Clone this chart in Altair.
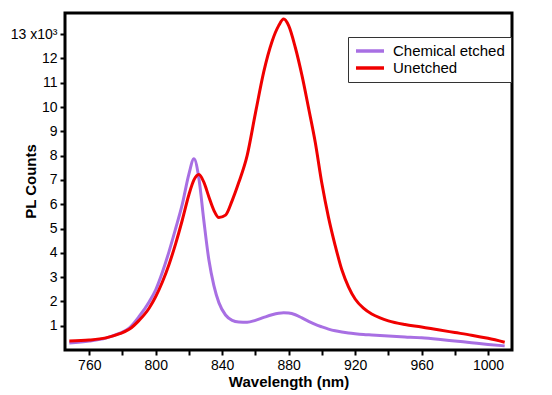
import altair as alt
import pandas as pd

wavelength = [748, 760, 770, 778, 784, 790, 796, 800, 804, 808, 812, 816, 820, 823, 826,
              829, 832, 835, 838, 842, 846, 850, 855, 860, 865, 870, 874, 877, 880, 884,
              888, 892, 896, 900, 904, 908, 912, 916, 920, 925, 930, 935, 940, 950, 960, 970,
              980, 990, 1000, 1010]

unetched = [0.37, 0.41, 0.50, 0.66, 0.85, 1.22, 1.72, 2.20, 2.80, 3.52, 4.38, 5.35, 6.40,
            7.00, 7.22, 6.90, 6.30, 5.75, 5.45, 5.55, 6.15, 6.90, 8.00, 9.75, 11.45, 12.7,
            13.35, 13.62, 13.35, 12.45, 11.3, 9.95, 8.55, 6.85, 5.45, 4.30, 3.30, 2.60,
            2.10, 1.72, 1.48, 1.32, 1.20, 1.05, 0.95, 0.83, 0.72, 0.61, 0.48, 0.32]

chemical = [0.29, 0.37, 0.49, 0.68, 0.90, 1.38, 1.98, 2.48, 3.20, 4.05, 5.00, 6.00, 7.25,
            7.87, 7.05, 5.30, 3.70, 2.65, 1.95, 1.44, 1.22, 1.15, 1.14, 1.22, 1.34, 1.45,
            1.51, 1.53, 1.52, 1.45, 1.32, 1.18, 1.05, 0.95, 0.86, 0.79, 0.74, 0.70, 0.67,
            0.64, 0.62, 0.60, 0.58, 0.54, 0.50, 0.44, 0.37, 0.30, 0.23, 0.17]

series_names = ["Chemical etched", "Unetched"]
series_colors = ["#A86FE3", "#F00000"]

x_ticks = list(range(760, 1001, 20))
y_ticks = list(range(1, 14))

rows = []
for i, w in enumerate(wavelength):
    rows.append({"wl": w, "counts": chemical[i], "series": series_names[0], "ord": 0})
for i, w in enumerate(wavelength):
    rows.append({"wl": w, "counts": unetched[i], "series": series_names[1], "ord": 1})
df = pd.DataFrame(rows)

chart = alt.Chart(df).mark_line(strokeWidth=3, interpolate="monotone").encode(
    x=alt.X("wl:Q",
            scale=alt.Scale(domain=[745.4, 1014.4], nice=False, zero=False),
            axis=alt.Axis(title="Wavelength (nm)", values=x_ticks, format="d",
                          labelExpr="datum.value % 40 == 0 ? datum.label : ''",
                          titleY=31, titleBaseline="middle")),
    y=alt.Y("counts:Q",
            scale=alt.Scale(domain=[0, 13.87], nice=False, zero=False),
            axis=alt.Axis(title="PL Counts", values=y_ticks, format="d",
                          labelExpr="datum.value == 13 ? '13 x10\u00b3' : datum.label",
                          titleX=-35, titleY=168, titleAngle=270,
                          titleAlign="center", titleBaseline="middle")),
    color=alt.Color("series:N",
                    scale=alt.Scale(domain=series_names, range=series_colors),
                    legend=alt.Legend(title=None, orient="none", legendX=283, legendY=24,
                                      strokeColor="#333333", fillColor="white", padding=6,
                                      labelFontSize=15, labelFont="Liberation Sans",
                                      labelColor="black", symbolType="stroke",
                                      symbolStrokeWidth=3.5, symbolSize=784,
                                      labelOffset=7, rowPadding=1, clipHeight=16)),
    order=alt.Order("ord:Q"),
).properties(
    width=447, height=337,
    autosize=alt.AutoSizeParams(type="none"),
    padding={"left": 57, "top": 5, "right": 30, "bottom": 40},
).configure_view(
    stroke="black", strokeWidth=3
).configure_axis(
    labelFont="Liberation Sans", labelFontSize=14, labelColor="black",
    titleFont="Liberation Sans", titleFontSize=15, titleFontWeight="bold", titleColor="black",
    tickColor="black", tickWidth=2, tickSize=5, domain=False, grid=False, labelPadding=3
)

chart.save("out.html", embed_options={"renderer": "svg", "actions": False})
